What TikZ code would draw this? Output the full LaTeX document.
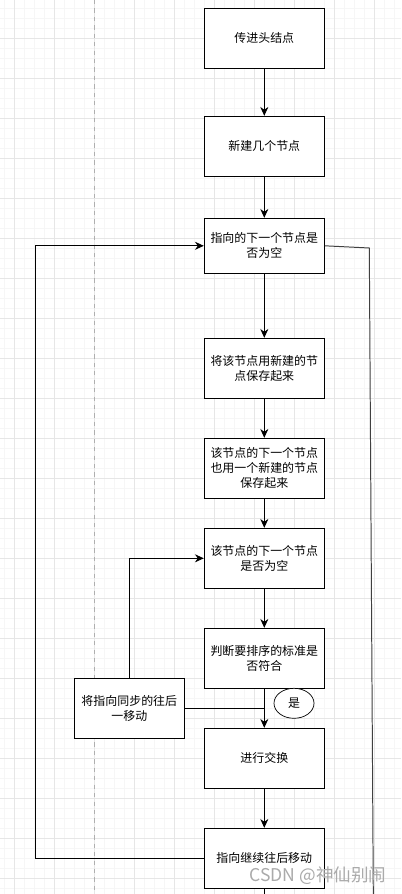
\documentclass[tikz,border=0pt]{standalone}
\usepackage{fontspec}
\setmainfont{Noto Sans CJK SC}
\usepackage{xcolor}
\usepackage{tikz}
\usetikzlibrary{positioning,shapes,arrows.meta,calc}
\definecolor{gridminor}{RGB}{246,246,246}
\definecolor{gridmajor}{RGB}{230,230,230}
\definecolor{pageline}{RGB}{175,175,175}
\definecolor{markgray}{RGB}{170,170,170}

\begin{document}
\begin{tikzpicture}[x=0.025cm, y=-0.025cm, line width=0.7pt, >={Stealth[length=2.2mm,width=2mm,inset=0.7mm]}]
    \tikzstyle{step box} = [rectangle, minimum width=3cm, minimum height=1.5cm, align=center, draw=black, fill=white, inner sep=1pt, font=\fontsize{8.5}{10.6}\selectfont]
    \tikzstyle{tag} = [ellipse, minimum width=1cm, minimum height=0.75cm, draw=black, fill=white, inner sep=0pt, line width=0.5pt, font=\fontsize{8.5}{10.6}\selectfont]

    \useasboundingbox (0,0) rectangle (401,894);
    \fill [white] (0,0) rectangle (401,894);

    % Background grid
    \foreach \gx in {4.3,14.3,...,400} { \draw [gridminor, line width=0.4pt] (\gx,0) -- (\gx,894); }
    \foreach \gy in {8.3,18.3,...,894} { \draw [gridminor, line width=0.4pt] (0,\gy) -- (401,\gy); }
    \foreach \gx in {14.3,54.3,...,400} { \draw [gridmajor, line width=0.5pt] (\gx,0) -- (\gx,894); }
    \foreach \gy in {38.3,78.3,...,894} { \draw [gridmajor, line width=0.5pt] (0,\gy) -- (401,\gy); }
    \draw [pageline, dashed, line width=0.5pt] (94.3,0) -- (94.3,894);

    % Main column
    \node [step box] (head) at (264.3,38.3) {传进头结点};
    \node [step box] (newnodes) at (264.3,146.3) {新建几个节点};
    \node [step box, minimum height=1.375cm] (nextnull) at (264.3,245.8) {指向的下一个节点是\\否为空};
    \node [step box] (savecur) at (264.3,368.3) {将该节点用新建的节\\点保存起来};
    \node [step box] (savenext) at (264.3,468.3) {该节点的下一个节点\\也用一个新建的节点\\保存起来};
    \node [step box] (nextnextnull) at (264.3,558.3) {该节点的下一个节点\\是否为空};
    \node [step box] (judge) at (264.3,658.3) {判断要排序的标准是\\否符合};
    \node [step box] (swap) at (264.3,758.3) {进行交换};
    \node [step box] (moveon) at (264.3,858.3) {指向继续往后移动};

    % Side box and label
    \node [step box, minimum width=2.75cm] (moveboth) at (129.3,708.3) {将指向同步的往后\\一移动};
    \node [tag] (yes) at (294,703.3) {是};

    % Helper points
    \coordinate (join) at (264.3,708.3);
    \coordinate (leftturn) at (35,858.3);
    \coordinate (righttop) at (369.3,248);
    \coordinate (rightend) at (373.3,894);
    \coordinate (bottomend) at (264.3,894);

    % Arrows
    \draw [->] (head) -- (newnodes);
    \draw [->] (newnodes) -- (nextnull);
    \draw [->] (nextnull) -- (savecur);
    \draw [->] (savecur) -- (savenext);
    \draw [->] (savenext) -- (nextnextnull);
    \draw [->] (nextnextnull) -- (judge);
    \draw [->] (judge) -- (swap);
    \draw [->] (swap) -- (moveon);
    \draw [->] (moveon.west) -- (leftturn) |- (nextnull.west);
    \draw [->] (moveboth.north) |- (nextnextnull.west);
    \draw (moveboth.east) -- (join);
    \draw [black!75] (nextnull.east) -- (righttop) -- (rightend);
    \draw (moveon.south) -- (bottomend);

    % Watermark
    \node [text=markgray, font=\fontsize{12.5}{14}\selectfont] (mark) at (318,876) {CSDN @神仙别闹};
\end{tikzpicture}
\end{document}
